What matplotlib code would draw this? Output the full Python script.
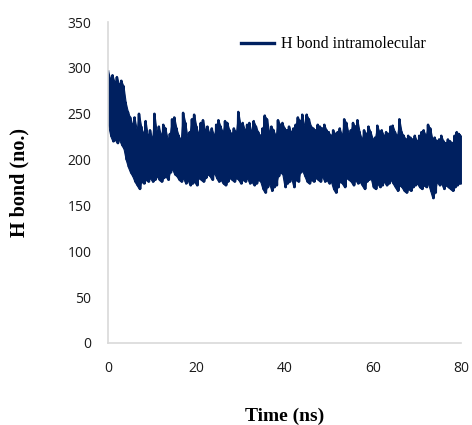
import matplotlib.pyplot as plt
import numpy as np

# upper and lower edges of the H-bond count trace, every 0.5 ns from 0 to 80 ns
hb_top = [296, 288, 292, 284, 290, 282, 286, 280, 262, 252,
          246, 238, 246, 232, 250, 236, 228, 242, 226, 232,
          222, 250, 230, 236, 226, 238, 234, 222, 228, 244,
          246, 234, 226, 222, 251, 240, 224, 230, 244, 249,
          236, 228, 240, 243, 232, 236, 228, 234, 226, 238,
          243, 236, 230, 242, 240, 232, 228, 234, 230, 252,
          238, 240, 232, 238, 240, 230, 242, 236, 230, 226,
          234, 248, 244, 230, 236, 232, 226, 243, 238, 240,
          234, 232, 236, 230, 234, 238, 246, 242, 249, 236,
          249, 244, 236, 234, 232, 238, 236, 234, 238, 232,
          230, 226, 232, 228, 230, 234, 226, 244, 240, 228,
          232, 240, 236, 243, 230, 222, 232, 228, 236, 230,
          222, 224, 237, 230, 232, 226, 230, 228, 236, 237,
          230, 226, 244, 230, 226, 222, 226, 224, 222, 226,
          220, 226, 230, 232, 226, 238, 234, 222, 224, 220,
          222, 226, 220, 218, 222, 220, 218, 226, 230, 228,
          226]

hb_low = [238, 226, 220, 222, 218, 222, 216, 212, 200, 192,
          186, 182, 176, 172, 168, 176, 174, 178, 176, 180,
          176, 178, 182, 178, 176, 180, 182, 178, 186, 190,
          184, 182, 178, 176, 180, 174, 178, 172, 174, 176,
          172, 180, 178, 176, 180, 184, 182, 178, 186, 180,
          176, 178, 174, 172, 176, 180, 178, 176, 180, 178,
          174, 178, 176, 180, 174, 176, 172, 174, 178, 176,
          168, 164, 170, 174, 166, 170, 172, 182, 186, 184,
          170, 174, 176, 180, 170, 178, 176, 186, 188, 182,
          176, 174, 178, 176, 180, 178, 176, 182, 176, 178,
          174, 176, 168, 164, 170, 176, 174, 170, 180, 178,
          176, 172, 178, 174, 176, 172, 168, 176, 178, 180,
          170, 168, 174, 170, 172, 176, 172, 174, 178, 174,
          170, 166, 172, 170, 166, 164, 168, 166, 170, 172,
          174, 170, 168, 172, 170, 174, 166, 158, 164, 176,
          172, 174, 168, 172, 170, 168, 166, 170, 172, 174,
          174]

# alternate peak / trough so the trace zig-zags like the raw MD output
hbond = np.empty(len(hb_top) * 2 - 1)
hbond[0::2] = hb_top
hbond[1::2] = hb_low[:-1]
time_ns = np.linspace(0, 80, len(hbond))
time_env = np.linspace(0, 80, len(hb_top))

navy = '#002060'
grey = '#d9d9d9'

fig = plt.figure(figsize=(4.72, 4.25), dpi=100)
ax = fig.add_axes([0.229, 0.193, 0.748, 0.755])

# solid body of the band, then the spiky trace on top
ax.fill_between(time_env, hb_low, hb_top, facecolor=navy, edgecolor=navy,
                linewidth=0.8)
ax.plot(time_ns, hbond, color=navy, linewidth=1.8, solid_joinstyle='round',
        label='H bond intramolecular')

ax.set_xlim(0, 80)
ax.set_ylim(0, 350)
ax.set_xticks([0, 20, 40, 60, 80])
ax.set_yticks(np.arange(0, 351, 50))

for s in ['top', 'right']:
    ax.spines[s].set_visible(False)
for s in ['left', 'bottom']:
    ax.spines[s].set_color(grey)
    ax.spines[s].set_linewidth(1.2)

ax.tick_params(length=0, labelsize=10, labelcolor='#1a1a1a')
ax.tick_params(axis='x', pad=13)
ax.tick_params(axis='y', pad=12)
for lab in ax.get_xticklabels() + ax.get_yticklabels():
    lab.set_fontfamily('Open Sans')

ax.set_xlabel('Time (ns)', fontfamily='Liberation Serif', fontweight='bold',
              fontsize=14, labelpad=23)
ax.set_ylabel('H bond (no.)', fontfamily='Liberation Serif', fontweight='bold',
              fontsize=14.5, labelpad=27)

leg = ax.legend(loc='upper right', bbox_to_anchor=(0.94, 1.0), frameon=False,
                prop={'family': 'Liberation Serif', 'size': 11.5},
                handlelength=2.1, handletextpad=0.4)
for h in leg.get_lines():
    h.set_linewidth(2.4)

fig.savefig('out.png', dpi=100)
